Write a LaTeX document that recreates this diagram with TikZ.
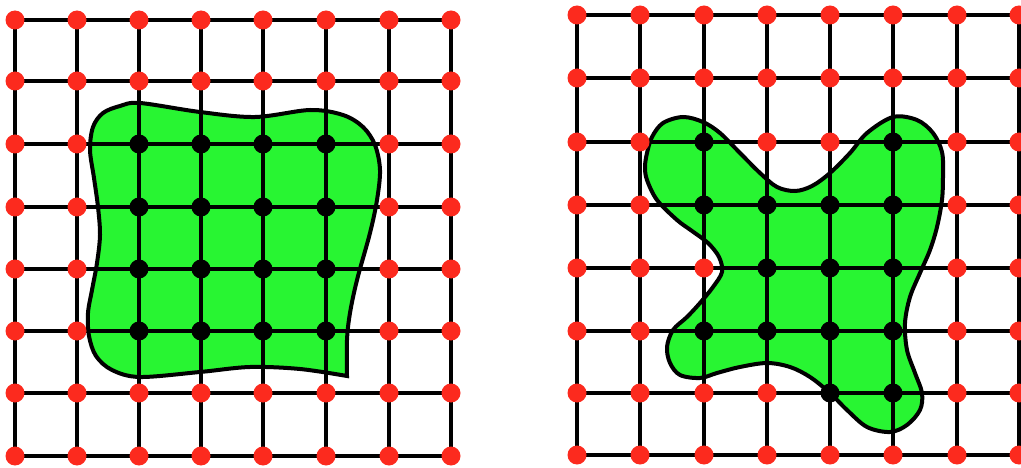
\documentclass[tikz,border=0pt]{standalone}
\definecolor{dotred}{RGB}{252,42,30}
\definecolor{blobgreen}{RGB}{40,245,50}
\makeatletter
\newcommand\pickdot[2]{\edef\pd@test{\noexpand\in@{,#1,}{,#2,}}\pd@test
  \ifin@\def\dotcol{black}\else\def\dotcol{dotred}\fi}
\makeatother
\begin{document}
\begin{tikzpicture}[x=1pt,y=-1pt,
  gridline/.style={line width=3.2pt, line cap=round},
  blobfill/.style={fill=blobgreen},
  blobline/.style={draw=black, line width=4pt, line join=miter},
  gdot/.style={circle, inner sep=0pt, minimum size=19pt, draw=none}]
\useasboundingbox (0,0) rectangle (1021,468);

% ---------- coordinates of the two grids ----------
\foreach \x [count=\i from 0] in {15,77,139,201,263,326,389,451}
  \foreach \y [count=\j from 0] in {20,81,144,207,269,331,393,456}
    \coordinate (L-\i-\j) at (\x,\y);
\foreach \x [count=\i from 0] in {577,640,704,767,830,893,957,1019}
  \foreach \y [count=\j from 0] in {15,78,142,205,268,331,393,455}
    \coordinate (R-\i-\j) at (\x,\y);

% ---------- green regions (fill) ----------
\def\leftblob{(347,376) plot[smooth, tension=0.55] coordinates {(347,376) (300,369) (250,367) (200,372) (140,377) (112,370) (96,356) (89,336) (88,313) (92,290) (97,263) (100,235) (98,207) (94,178) (90,150) (93,127) (103,113) (120,106) (140,103) (200,112) (255,117) (310,110) (343,115) (363,127) (375,145) (380,170) (377,200) (370,233) (357,280) (350,313) (347,340) (347,376)} -- cycle}
\def\rightblob{plot[smooth cycle, tension=0.55] coordinates {(683,117) (703,122) (720,133) (740,153) (760,173) (777,187) (795,191) (812,186) (830,173) (850,153) (867,133) (893,117) (917,120) (933,133) (942,152) (943,175) (942,200) (937,227) (930,250) (920,273) (910,297) (905,323) (907,350) (915,373) (922,393) (920,410) (907,425) (890,432) (867,427) (847,410) (830,393) (810,377) (790,367) (767,363) (740,367) (717,373) (700,378) (680,375) (670,363) (667,347) (673,330) (687,317) (700,303) (713,287) (722,272) (719,257) (708,243) (692,231) (677,220) (657,200) (647,180) (645,167) (647,153) (652,137) (663,123)}}
\fill[blobfill] \leftblob;
\fill[blobfill] \rightblob;

% ---------- grid lines ----------
\foreach \g in {L,R}
  \foreach \i in {0,...,7}{
    \draw[gridline] (\g-\i-0) -- (\g-\i-7);
    \draw[gridline] (\g-0-\i) -- (\g-7-\i);
  }

% ---------- outlines ----------
\draw[blobline] \leftblob;
\draw[blobline] \rightblob;

% ---------- dots ----------
\def\leftblack{2-2,3-2,4-2,5-2,2-3,3-3,4-3,5-3,2-4,3-4,4-4,5-4,2-5,3-5,4-5,5-5}
\def\rightblack{2-2,5-2,2-3,3-3,4-3,5-3,3-4,4-4,5-4,2-5,3-5,4-5,5-5,4-6,5-6}
\foreach \i in {0,...,7}
  \foreach \j in {0,...,7}{
    \pickdot{\i-\j}{\leftblack}
    \node[gdot, fill=\dotcol] (Ld-\i-\j) at (L-\i-\j) {};
    \pickdot{\i-\j}{\rightblack}
    \node[gdot, fill=\dotcol] (Rd-\i-\j) at (R-\i-\j) {};
  }
\end{tikzpicture}
\end{document}
